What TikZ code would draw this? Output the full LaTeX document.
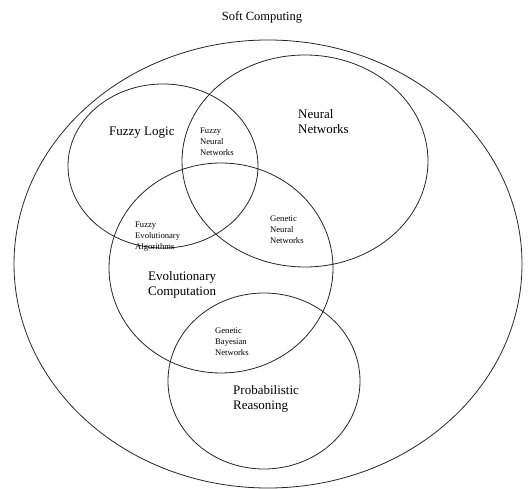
\documentclass[tikz,border=0pt]{standalone}
\usepackage{fontspec}
\setmainfont{Liberation Serif}
\begin{document}
\begin{tikzpicture}[x=1pt,y=-1pt,
  ring/.style={draw=black!85,line width=0.8pt},
  biglab/.style={font=\fontsize{13}{15}\selectfont,align=left,anchor=west,inner sep=0pt},
  smalllab/.style={font=\fontsize{8.6}{11}\selectfont,align=left,anchor=west,inner sep=0pt}]
\useasboundingbox (0,0) rectangle (528,489);
\draw[ring] (268,264) ellipse [x radius=254, y radius=224];
\draw[ring] (163,166) ellipse [x radius=95, y radius=82];
\draw[ring] (305,161) ellipse [x radius=123, y radius=106];
\draw[ring] (221,268) ellipse [x radius=112, y radius=105];
\draw[ring] (264,381) ellipse [x radius=96, y radius=88];
\node[font=\fontsize{12.5}{15}\selectfont,inner sep=0pt] (sc) at (262,17) {Soft Computing};
\node[biglab] (fl) at (109,133) {Fuzzy Logic};
\node[biglab] (nn) at (298,122) {Neural\\Networks};
\node[biglab] (ec) at (148,285) {Evolutionary\\Computation};
\node[biglab] (pr) at (233,399) {Probabilistic\\Reasoning};
\node[smalllab] (fnn) at (200,142) {Fuzzy\\Neural\\Networks};
\node[smalllab] (fea) at (135,237) {Fuzzy\\Evolutionary\\Algorithms};
\node[smalllab] (gnn) at (270,230) {Genetic\\Neural\\Networks};
\node[smalllab] (gbn) at (215,342) {Genetic\\Bayesian\\Networks};
\end{tikzpicture}
\end{document}
